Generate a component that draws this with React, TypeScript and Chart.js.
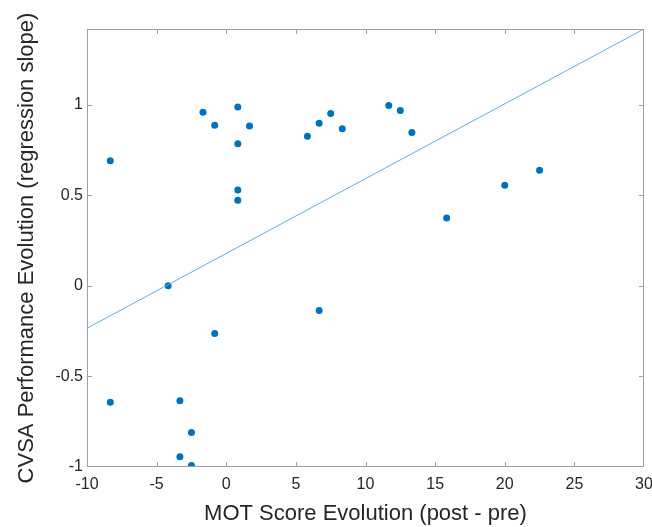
import React, { useEffect, useRef } from "react";
import { Chart, registerables } from "chart.js";

Chart.register(...registerables);

const motScore = [
  -8.33, -1.67, -0.83, 0.83, 1.67, 0.83, 0.83, 0.83, 5.83, 6.67, 7.5, 8.33,
  11.67, 12.5, 13.33, 15.83, 20, 22.5, -4.17, 6.67, -0.83, -8.33, -3.33, -2.5,
  -3.33, -2.5,
];
const cvsaSlope = [
  0.691, 0.959, 0.887, 0.987, 0.882, 0.784, 0.529, 0.472, 0.826, 0.898, 0.951,
  0.868, 0.996, 0.968, 0.846, 0.374, 0.555, 0.638, 0.0, -0.136, -0.263, -0.642,
  -0.634, -0.809, -0.944, -0.992,
];
const fitX = [-10, 30];
const fitY = [-0.234, 1.418];

const xTickValues = [-10, -5, 0, 5, 10, 15, 20, 25, 30];
const yTickValues = [-1, -0.5, 0, 0.5, 1];

const FONT = '"Liberation Sans", Arial, sans-serif';
const AXIS_GRAY = "#a0a0a0";
const TEXT = "#262626";

const boxPlugin = {
  id: "matlabBox",
  afterDatasetsDraw(chart: any) {
    const { ctx, chartArea, scales } = chart;
    const left = Math.round(chartArea.left);
    const right = Math.round(chartArea.right);
    const top = Math.round(chartArea.top);
    const bottom = Math.round(chartArea.bottom);
    const tl = 5;
    ctx.save();
    ctx.fillStyle = AXIS_GRAY;
    // box
    ctx.fillRect(left, top, right - left, 1);
    ctx.fillRect(left, bottom - 1, right - left, 1);
    ctx.fillRect(left, top, 1, bottom - top);
    ctx.fillRect(right - 1, top, 1, bottom - top);
    // inward ticks on all sides
    scales.x.ticks.forEach((t: any) => {
      const px = Math.round(scales.x.getPixelForValue(t.value));
      const x0 = Math.min(Math.max(px, left), right - 1);
      ctx.fillRect(x0, bottom - tl, 1, tl);
      ctx.fillRect(x0, top, 1, tl);
    });
    scales.y.ticks.forEach((t: any) => {
      const py = Math.round(scales.y.getPixelForValue(t.value));
      const y0 = Math.min(Math.max(py, top), bottom - 1);
      ctx.fillRect(left, y0, tl, 1);
      ctx.fillRect(right - tl, y0, tl, 1);
    });
    ctx.restore();
  },
};

export default function App() {
  const ref = useRef<HTMLCanvasElement | null>(null);

  useEffect(() => {
    if (!ref.current) return;
    const points = motScore.map((x, i) => ({ x, y: cvsaSlope[i] }));
    const line = fitX.map((x, i) => ({ x, y: fitY[i] }));
    const chart = new Chart(ref.current, {
      type: "scatter",
      data: {
        datasets: [
          {
            type: "line",
            data: line,
            borderColor: "#62ace0",
            borderWidth: 1,
            pointRadius: 0,
            fill: false,
          },
          {
            data: points,
            backgroundColor: "#0072BD",
            borderColor: "#0072BD",
            pointRadius: 3.5,
            borderWidth: 0,
          },
        ],
      },
      options: {
        responsive: false,
        animation: false,
        layout: { padding: { top: 29, right: 0, left: 0, bottom: 0 } },
        plugins: {
          legend: { display: false },
          tooltip: { enabled: false },
        },
        scales: {
          x: {
            type: "linear",
            min: -10,
            max: 30,
            afterBuildTicks: (s: any) => {
              s.ticks = xTickValues.map((v) => ({ value: v }));
            },
            afterFit: (s: any) => {
              s.height = 60;
              s.paddingRight = 8;
              s.paddingLeft = 0;
            },
            grid: { display: false, drawTicks: false },
            border: { display: false },
            ticks: {
              padding: 8,
              color: TEXT,
              font: { family: FONT, size: 16 },
              maxRotation: 0,
              callback: (v: any) => String(v),
            },
            title: {
              display: true,
              text: "MOT Score Evolution (post - pre)",
              color: TEXT,
              font: { family: FONT, size: 22 },
              padding: { top: 0, bottom: 0 },
            },
          },
          y: {
            type: "linear",
            min: -1,
            max: 1.418,
            afterBuildTicks: (s: any) => {
              s.ticks = yTickValues.map((v) => ({ value: v }));
            },
            afterFit: (s: any) => {
              s.width = 87;
              s.paddingTop = 0;
              s.paddingBottom = 0;
            },
            grid: { display: false, drawTicks: false },
            border: { display: false },
            ticks: {
              padding: 4,
              color: TEXT,
              font: { family: FONT, size: 16 },
              callback: (v: any) => String(v),
            },
            title: {
              display: true,
              text: "CVSA Performance Evolution (regression slope)",
              color: TEXT,
              font: { family: FONT, size: 22 },
              padding: { top: 14, bottom: 0 },
            },
          },
        },
      },
      plugins: [boxPlugin],
    } as any);
    return () => chart.destroy();
  }, []);

  return (
    <div style={{ position: "fixed", left: 0, top: 0, width: 652, height: 527, background: "#fff" }}>
      <canvas ref={ref} width={652} height={527} />
    </div>
  );
}
